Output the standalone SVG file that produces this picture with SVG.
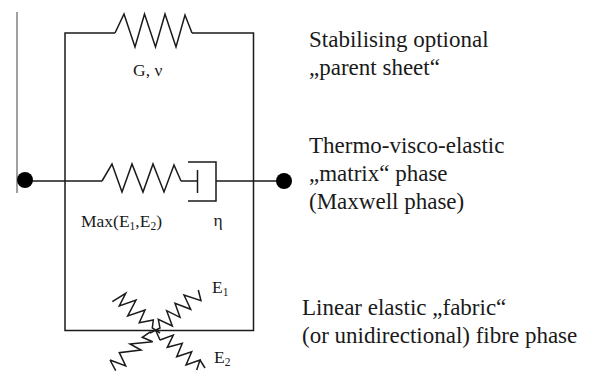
<svg xmlns="http://www.w3.org/2000/svg" width="590" height="371" viewBox="0 0 590 371">
<style>
.w{fill:none;stroke:#1a1a1a;stroke-width:1.5;stroke-linejoin:miter}
.t{font-family:"Liberation Serif",serif;fill:#1a1a1a}
.l{font-size:23px}
.s{font-size:17.5px}
.u{font-size:11.5px}
</style>
<rect width="590" height="371" fill="#fff"/>
<g id="connectors">
<path class="w" d="M115 33H65V330.5H253.5V33H192"/>
<path class="w" d="M25 181H102M181 181H197.5M216 181H284"/>
</g>
<line x1="17" y1="12" x2="17" y2="193" stroke="#808080" stroke-width="1.5"/>
<g id="spring-parent"><path class="w" d="M115 33L124 14L135 47L144.5 14L155.5 47L165 14L176 47L185 15L192 33"/></g>
<g id="spring-matrix"><path class="w" d="M102 181L112 164L122 192L132 164L143 192L153 164L164 192L174 165L181 181"/></g>
<g id="dashpot"><path class="w" d="M197.5 170V193M188 162H216V201H188"/></g>
<g id="node-left"><circle cx="25" cy="180" r="8" fill="#000"/></g>
<g id="node-right"><circle cx="284" cy="181" r="8" fill="#000"/></g>
<g id="fabric">
<path class="w" d="M112.3 301.7L125.7 293.3L119.3 306L136 300L127.7 316L145 310L139.3 322.7L153.3 320L152.3 328L160 333"/>
<path class="w" d="M198.3 290L201 300.7L184 295L190.7 309.3L175 303.3L180 317.3L166.7 310.7L172.3 326L158.3 319.3L160 328L150 333"/>
<path class="w" d="M110 360L115.7 370.7M110 360L125.7 366L119.3 352.7L141 350L130 344L152.7 341.7L142.3 337.3L150.7 331.7"/>
<path class="w" d="M160 340L173.3 335L167.3 347.3L182.3 343.3L176.7 356.7L191.7 351.7L186 365L200 360L196.7 370M200 360L205 368M160 340L156 331"/>
</g>
<g id="labels">
<text class="t s" x="133" y="76">G, ν</text>
<text class="t s" x="81" y="226.5">Max(E<tspan class="u" dy="3">1</tspan><tspan dy="-3">,E</tspan><tspan class="u" dy="3">2</tspan><tspan dy="-3">)</tspan></text>
<text class="t s" x="213.5" y="226">η</text>
<text class="t s" x="212" y="293">E<tspan class="u" dy="3">1</tspan></text>
<text class="t s" x="214" y="363">E<tspan class="u" dy="3">2</tspan></text>
<text class="t l" x="309" y="47">Stabilising optional</text>
<text class="t l" x="309" y="74.5">„parent sheet“</text>
<text class="t l" x="309" y="152.7">Thermo-visco-elastic</text>
<text class="t l" x="309" y="180.7">„matrix“ phase</text>
<text class="t l" x="309" y="208.5">(Maxwell phase)</text>
<text class="t l" x="302" y="315">Linear elastic „fabric“</text>
<text class="t l" x="302" y="342.7">(or unidirectional) fibre phase</text>
</g>
</svg>
